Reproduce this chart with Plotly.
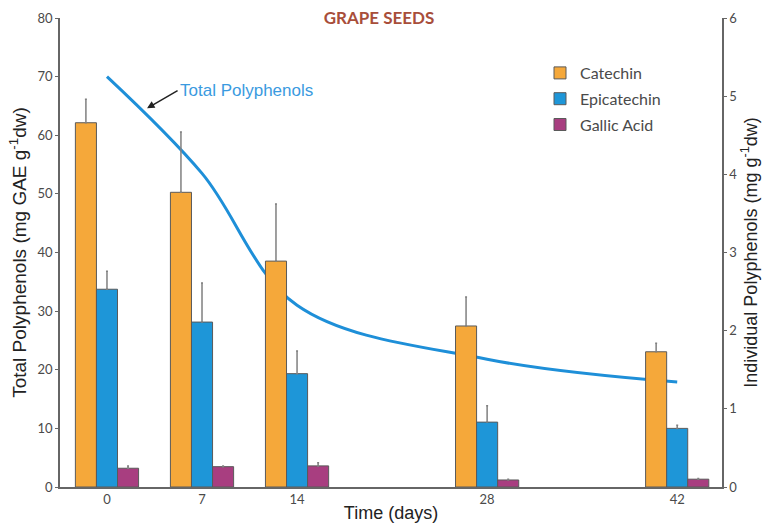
import plotly.graph_objects as go

days = [0, 7, 14, 28, 42]
catechin = [4.66, 3.77, 2.89, 2.06, 1.73]
catechin_err = [0.30, 0.77, 0.73, 0.37, 0.11]
epicatechin = [2.53, 2.11, 1.45, 0.83, 0.75]
epicatechin_err = [0.23, 0.50, 0.29, 0.21, 0.04]
gallic = [0.24, 0.26, 0.27, 0.09, 0.10]
gallic_err = [0.03, 0.01, 0.04, 0.01, 0.01]
total_days = [0, 7, 14, 28, 42]
total_poly = [70.0, 53.5, 31.0, 21.8, 17.9]

C_ORANGE = "#F5A83A"
C_BLUE = "#1E96D8"
C_MAG = "#A83E80"
LINE_BLUE = "#1E8FD8"
AX = "#666666"
TXT = "#4a4a4a"

W, H = 769, 526
L, R, T, B = 60, 47, 18, 39
pw, ph = W - L - R, H - T - B

fig = go.Figure()

def bar(name, y, err, color):
    return go.Bar(
        x=days, y=y, name=name, yaxis="y2", legendgroup=name,
        marker=dict(color=color, line=dict(color="#5a5a5a", width=1)),
        error_y=dict(type="data", array=err, arrayminus=[0]*len(err), symmetric=False,
                     color="#808080", thickness=1.5, width=1),
    )

fig.add_trace(bar("Catechin", catechin, catechin_err, C_ORANGE))
fig.add_trace(bar("Epicatechin", epicatechin, epicatechin_err, C_BLUE))
fig.add_trace(bar("Gallic Acid", gallic, gallic_err, C_MAG))

fig.add_trace(go.Scatter(
    x=total_days, y=total_poly, mode="lines", yaxis="y",
    line=dict(color=LINE_BLUE, width=3, shape="spline", smoothing=1.0),
    showlegend=False, name="Total Polyphenols",
))

fig.add_annotation(
    x=2.95, y=64.6, xref="x", yref="y",
    ax=5.2, ay=67.6, axref="x", ayref="y",
    text="Total Polyphenols", showarrow=True,
    arrowhead=2, arrowsize=1, arrowwidth=1.5, arrowcolor="#222222",
    font=dict(family="Liberation Sans", size=17, color="#3A9AE0"),
    xanchor="left", yanchor="middle",
)

fig.update_layout(
    width=W, height=H,
    margin=dict(l=L, r=R, t=T, b=B),
    plot_bgcolor="white", paper_bgcolor="white",
    barmode="group", bargap=0.335, bargroupgap=0,
    font=dict(family="Lato", color=TXT),
    title=dict(text="<b>GRAPE SEEDS</b>", x=379 / W, y=1 - 18 / H, xanchor="center", yanchor="middle",
               font=dict(family="Lato", size=17, color="#A84E3A")),
    xaxis=dict(range=[-3.46, 45.3], tickvals=days, ticktext=[str(d) for d in days],
               showline=True, linecolor=AX, linewidth=1.5, ticks="", showgrid=False, zeroline=False,
               tickfont=dict(family="Lato", size=13, color=TXT), automargin=False,
               title=dict(text="Time (days)", font=dict(family="Liberation Sans", size=18, color="#222222"),
                          standoff=0)),
    yaxis=dict(range=[0, 80], dtick=10, showline=True, linecolor=AX, linewidth=1.5,
               ticks="outside", ticklen=3, tickcolor=AX, showgrid=False, zeroline=False,
               tickfont=dict(family="Lato", size=13, color=TXT), automargin=False,
               title=dict(text="Total Polyphenols (mg GAE g<sup>-1</sup>dw)",
                          font=dict(family="Liberation Sans", size=19, color="#222222"), standoff=6)),
    yaxis2=dict(range=[0, 6], dtick=1, overlaying="y", side="right", showline=True, linecolor=AX,
                linewidth=1.5, ticks="outside", ticklen=3, tickcolor=AX, showgrid=False, zeroline=False,
                tickfont=dict(family="Lato", size=13, color=TXT), automargin=False,
                title=dict(text="Individual Polyphenols (mg g<sup>-1</sup>dw)",
                           font=dict(family="Liberation Sans", size=18, color="#222222"), standoff=8)),
    legend=dict(x=(540 - L) / pw, y=1 - (56 - T) / ph, xanchor="left", yanchor="top",
                bgcolor="rgba(0,0,0,0)", font=dict(family="Lato", size=16, color=TXT),
                tracegroupgap=2, itemwidth=30),
)

fig.write_html("out.html")
